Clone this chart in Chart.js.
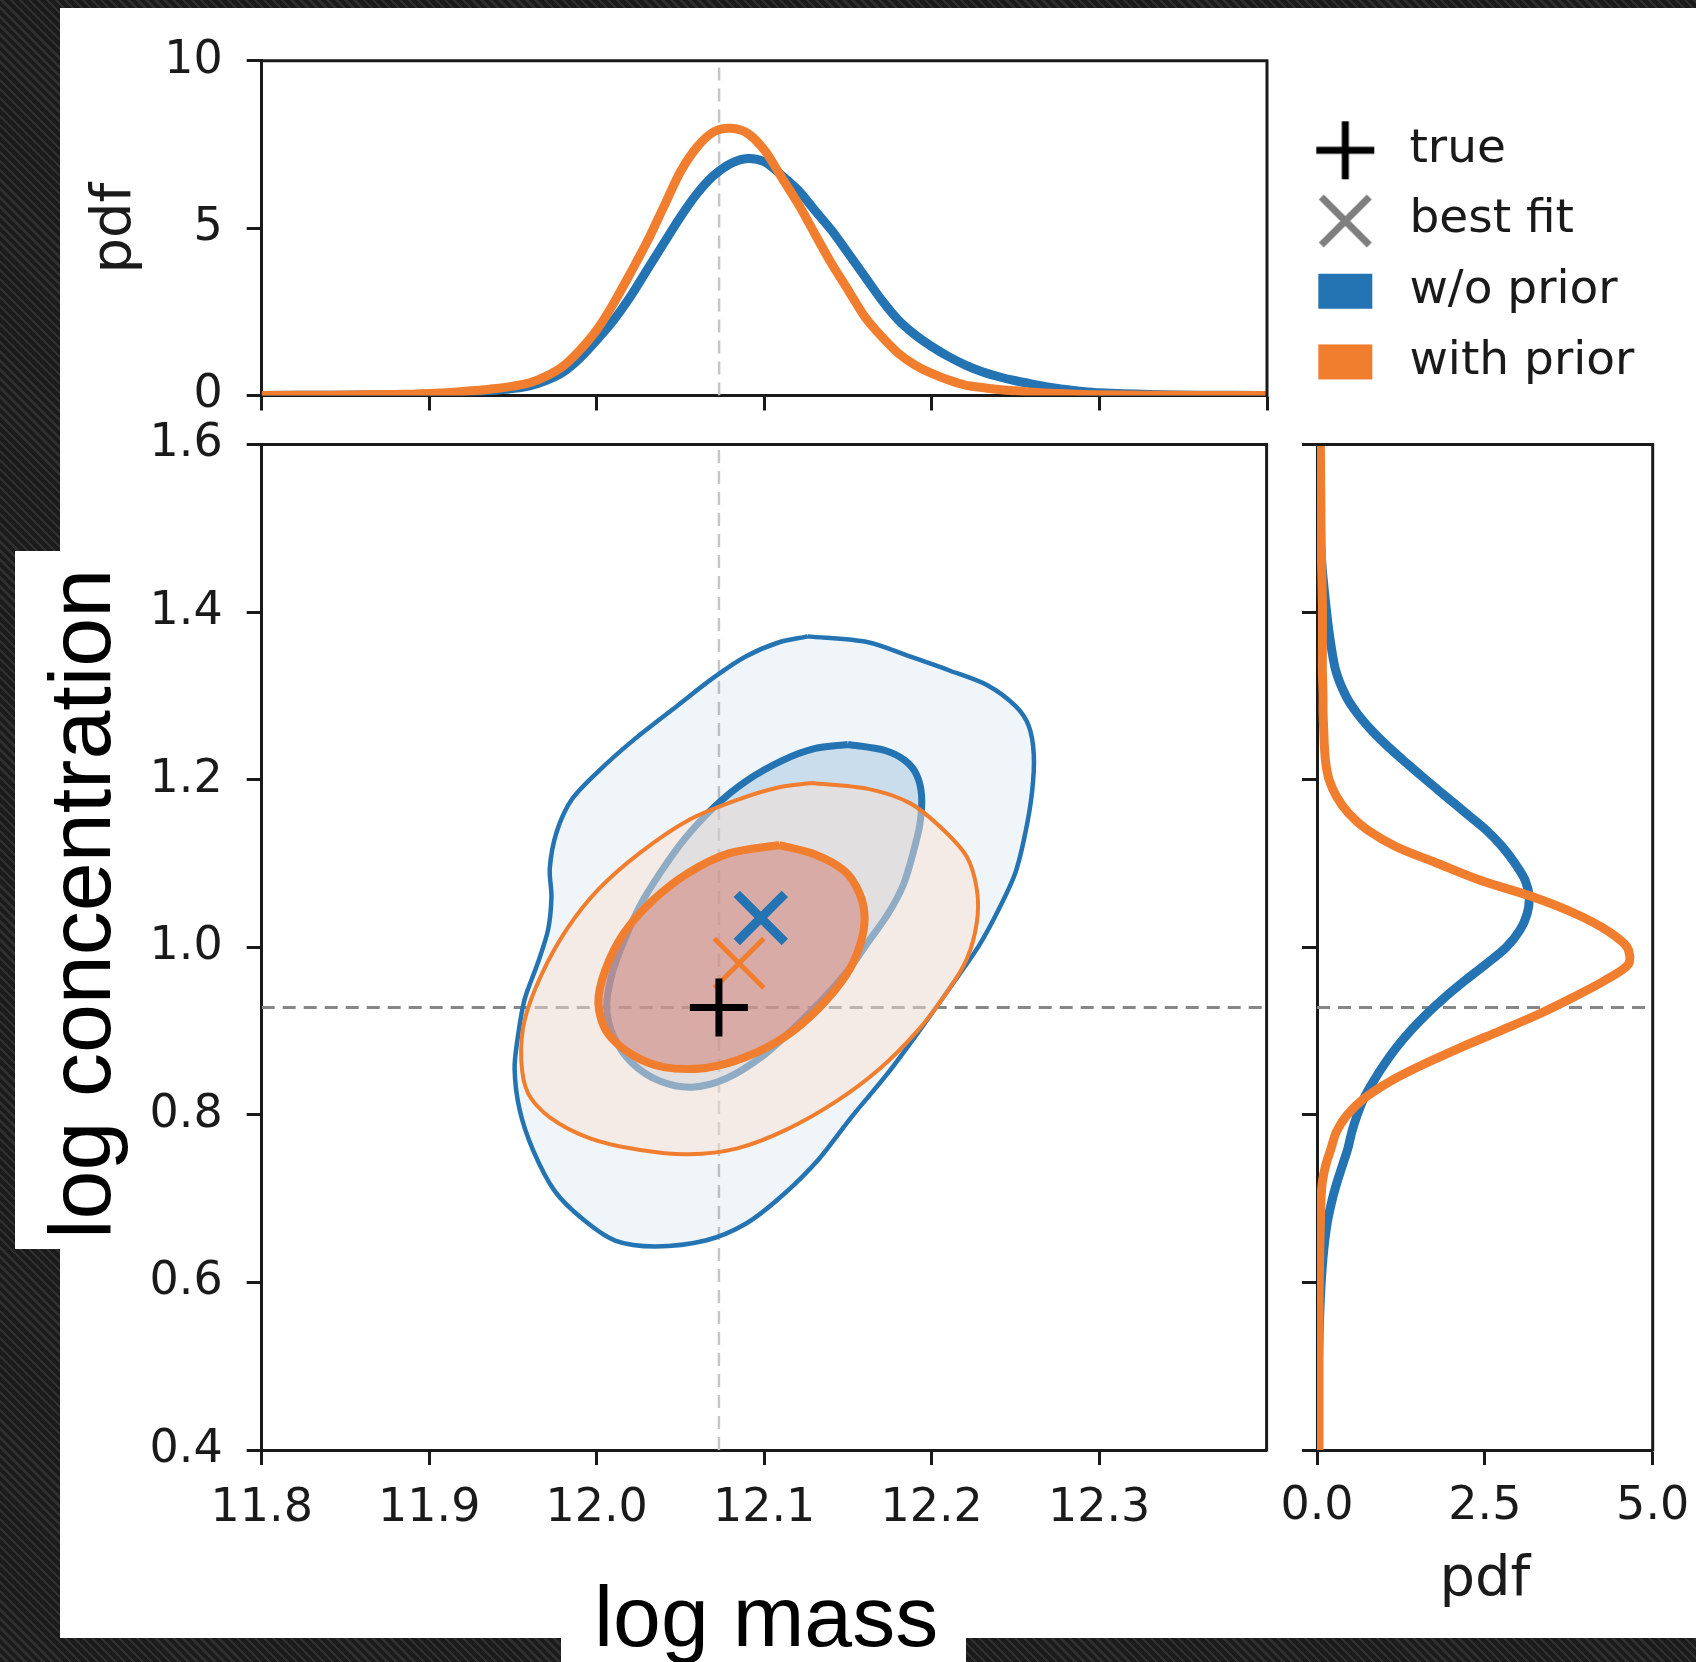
<!DOCTYPE html>
<html>
<head>
<meta charset="utf-8">
<title>log mass / log concentration posterior</title>
<script src="https://cdn.jsdelivr.net/npm/chart.js@4.4.1/dist/chart.umd.min.js"></script>
<style>
  html, body { margin: 0; padding: 0; }
  body {
    width: 1696px; height: 1662px; position: relative; overflow: hidden;
    background: repeating-linear-gradient(45deg, #1b1b1b 0px, #1b1b1b 4px, #2f2f2f 4px, #2f2f2f 6.4px);
  }
  #panel { position: absolute; left: 60px; top: 8px; width: 1636px; height: 1630px; background: #fff; }
  canvas { position: absolute; }
  #topChart { left: 60px; top: 0px; }
  #mainChart { left: 60px; top: 388px; }
  #sideChart { left: 1262px; top: 388px; }
  .patch { position: absolute; background: #fff; }
  .bigLabel {
    position: absolute; white-space: nowrap; color: #000;
    font-family: "Liberation Sans", Arial, sans-serif; line-height: 1;
  }
  #ylab { font-size: 88px; left: 35.5px; top: 1239px; transform-origin: 0 0; transform: rotate(-90deg); }
  #xlab { font-size: 86px; left: 594px; top: 1573px; }
</style>
</head>
<body>
<div id="panel"></div>
<div class="patch" style="left:15px; top:551px; width:46px; height:698px;"></div>
<div class="patch" style="left:561px; top:1574px; width:405px; height:88px;"></div>
<canvas id="topChart" width="1577" height="450"></canvas>
<canvas id="mainChart" width="1287" height="1162"></canvas>
<canvas id="sideChart" width="446" height="1232"></canvas>
<div class="bigLabel" id="ylab">log concentration</div>
<div class="bigLabel" id="xlab">log mass</div>
<script>
// values
var massGrid = [11.80, 11.84, 11.88, 11.89, 11.90, 11.91, 11.92, 11.93, 11.94, 11.95, 11.96, 11.97, 11.98, 11.99,
  12.00, 12.01, 12.02, 12.03, 12.04, 12.05, 12.06, 12.07, 12.08, 12.09, 12.10, 12.11, 12.12,
  12.13, 12.14, 12.15, 12.16, 12.17, 12.18, 12.19, 12.20, 12.21, 12.22, 12.23, 12.24,
  12.25, 12.26, 12.27, 12.28, 12.29, 12.30, 12.33, 12.36, 12.40];
var massPdfNoPrior = [0.00, 0.01, 0.02, 0.03, 0.04, 0.06, 0.09, 0.12, 0.16, 0.21, 0.29, 0.45, 0.70, 1.12,
  1.66, 2.25, 2.95, 3.75, 4.55, 5.34, 6.04, 6.58, 6.93, 7.08, 6.98, 6.59, 6.14,
  5.54, 4.94, 4.25, 3.55, 2.85, 2.25, 1.81, 1.46, 1.16, 0.91, 0.71, 0.56,
  0.44, 0.34, 0.25, 0.18, 0.12, 0.08, 0.03, 0.01, 0.00];
var massPdfWithPrior = [0.00, 0.01, 0.03, 0.04, 0.06, 0.08, 0.12, 0.16, 0.21, 0.28, 0.38, 0.58, 0.88, 1.36,
  1.96, 2.75, 3.65, 4.59, 5.64, 6.69, 7.43, 7.88, 7.98, 7.83, 7.33, 6.54, 5.74,
  4.84, 3.95, 3.15, 2.35, 1.76, 1.26, 0.91, 0.66, 0.46, 0.31, 0.24, 0.18,
  0.14, 0.10, 0.07, 0.05, 0.03, 0.02, 0.01, 0.00, 0.00];

var concGrid = [0.40, 0.50, 0.58, 0.63, 0.67, 0.70,
  0.72, 0.74, 0.76, 0.78, 0.80, 0.82, 0.84, 0.86, 0.88, 0.90, 0.92, 0.94, 0.96, 0.98, 1.00,
  1.02, 1.04, 1.06, 1.08, 1.10, 1.12, 1.14, 1.16, 1.18, 1.20, 1.22, 1.24, 1.26, 1.28, 1.30,
  1.33, 1.37, 1.41, 1.45, 1.50, 1.60];
var concPdfNoPrior = [0.00, 0.02, 0.05, 0.09, 0.15, 0.23,
  0.30, 0.38, 0.46, 0.52, 0.60, 0.70, 0.84, 1.00, 1.18, 1.39, 1.63, 1.90, 2.20, 2.52, 2.82,
  3.02, 3.13, 3.16, 3.10, 2.95, 2.76, 2.52, 2.22, 1.92, 1.62, 1.33, 1.05, 0.80, 0.59, 0.43,
  0.28, 0.19, 0.13, 0.08, 0.04, 0.01];
var concPdfWithPrior = [0.03, 0.03, 0.03, 0.04, 0.05, 0.06,
  0.08, 0.13, 0.21, 0.29, 0.45, 0.71, 1.09, 1.58, 2.13, 2.72, 3.30, 3.81, 4.28, 4.64, 4.62,
  4.32, 3.85, 3.22, 2.43, 1.80, 1.18, 0.75, 0.47, 0.29, 0.18, 0.13, 0.11, 0.10, 0.09, 0.09,
  0.08, 0.08, 0.08, 0.07, 0.06, 0.05];

var trueMass = 12.073;
var trueConc = 0.928;
var bestNoPrior = [12.098, 1.035];
var bestWithPrior = [12.085, 0.981];

// credible-region outlines, [log mass, log concentration]
var noPriorOuter = [[12.126, 1.371], [12.162, 1.364], [12.187, 1.347], [12.211, 1.330], [12.233, 1.313],
  [12.250, 1.288], [12.258, 1.264], [12.261, 1.230], [12.260, 1.186], [12.256, 1.137], [12.250, 1.089],
  [12.240, 1.045], [12.228, 1.001], [12.211, 0.952], [12.194, 0.904], [12.174, 0.850], [12.152, 0.797],
  [12.133, 0.748], [12.111, 0.704], [12.089, 0.670], [12.065, 0.650], [12.035, 0.643], [12.011, 0.650],
  [11.992, 0.675], [11.975, 0.709], [11.962, 0.758], [11.954, 0.806], [11.951, 0.855], [11.953, 0.894],
  [11.957, 0.938], [11.965, 0.982], [11.971, 1.021], [11.973, 1.060], [11.972, 1.094], [11.976, 1.137],
  [11.985, 1.176], [12.001, 1.210], [12.023, 1.249], [12.048, 1.288], [12.070, 1.322], [12.089, 1.347],
  [12.109, 1.364]];
var noPriorInner = [[12.150, 1.242], [12.172, 1.235], [12.184, 1.223], [12.191, 1.206], [12.194, 1.181],
  [12.193, 1.147], [12.189, 1.113], [12.183, 1.074], [12.174, 1.040], [12.162, 1.006], [12.150, 0.972],
  [12.135, 0.938], [12.118, 0.904], [12.099, 0.870], [12.077, 0.843], [12.057, 0.833], [12.038, 0.840],
  [12.021, 0.862], [12.010, 0.894], [12.006, 0.928], [12.009, 0.967], [12.016, 1.006], [12.026, 1.050],
  [12.038, 1.089], [12.052, 1.128], [12.070, 1.167], [12.089, 1.198], [12.111, 1.223], [12.130, 1.237]];
var withPriorOuter = [[12.128, 1.196], [12.162, 1.189], [12.187, 1.172], [12.206, 1.142], [12.221, 1.108],
  [12.227, 1.069], [12.227, 1.030], [12.221, 0.986], [12.208, 0.943], [12.191, 0.899], [12.169, 0.855],
  [12.143, 0.816], [12.113, 0.782], [12.084, 0.760], [12.055, 0.753], [12.026, 0.758], [11.996, 0.772],
  [11.972, 0.797], [11.959, 0.826], [11.955, 0.865], [11.957, 0.913], [11.967, 0.967], [11.982, 1.021],
  [12.001, 1.069], [12.026, 1.113], [12.055, 1.152], [12.084, 1.176], [12.109, 1.191]];
var withPriorInner = [[12.109, 1.122], [12.130, 1.111], [12.148, 1.091], [12.157, 1.064], [12.160, 1.035],
  [12.157, 1.001], [12.149, 0.967], [12.133, 0.928], [12.113, 0.894], [12.089, 0.869], [12.065, 0.856],
  [12.040, 0.857], [12.021, 0.872], [12.006, 0.899], [12.001, 0.933], [12.005, 0.972], [12.016, 1.016],
  [12.033, 1.055], [12.055, 1.089], [12.079, 1.112]];

var massTicks = [11.8, 11.9, 12.0, 12.1, 12.2, 12.3];
var massTicksTop = [11.8, 11.9, 12.0, 12.1, 12.2, 12.3, 12.4];
var concTicks = [0.4, 0.6, 0.8, 1.0, 1.2, 1.4, 1.6];
var massPdfTicks = [0, 5, 10];
var concPdfTicks = [0, 2.5, 5];

var BLUE = '#2474b3';
var ORANGE = '#f07e2e';
var INK = '#1a1a1a';

Chart.defaults.font.family = "'DejaVu Sans', sans-serif";

function xy(xs, ys) {
  return xs.map(function(x, i) { return {x: x, y: ys[i]}; });
}
function loop(pairs) {
  return pairs.concat([pairs[0]]).map(function(p) { return {x: p[0], y: p[1]}; });
}
function fixedTicks(values) {
  return function(scale) { scale.ticks = values.map(function(v) { return {value: v}; }); };
}

var tickFont = {family: "'DejaVu Sans', sans-serif", size: 46};
var titleFont = {family: "'DejaVu Sans', sans-serif", size: 56};
var gridOpts = {drawOnChartArea: false, drawTicks: true, tickLength: 15, tickWidth: 3, tickColor: INK};
var borderOpts = {display: true, color: INK, width: 3};

// top and right spines, matplotlib style
var framePlugin = {
  id: 'frame',
  afterDraw: function(chart) {
    var a = chart.chartArea, ctx = chart.ctx;
    ctx.save();
    ctx.strokeStyle = INK;
    ctx.lineWidth = 3;
    ctx.beginPath();
    ctx.moveTo(a.left - 1.5, a.top);
    ctx.lineTo(a.right, a.top);
    ctx.lineTo(a.right, a.bottom + 1.5);
    ctx.stroke();
    ctx.restore();
  }
};

function curve(data, color, order) {
  return {data: data, showLine: true, borderColor: color, borderWidth: 9, pointRadius: 0,
    tension: 0.3, fill: false, order: order};
}
function dashed(data, color, width, order) {
  return {data: data, showLine: true, borderColor: color, borderWidth: width, borderDash: [13, 8],
    pointRadius: 0, fill: false, order: order};
}
function region(pairs, line, fillColor, width, order) {
  return {data: loop(pairs), showLine: true, borderColor: line, backgroundColor: fillColor,
    borderWidth: width, fill: 'shape', pointRadius: 0, tension: 0.3, order: order};
}
function marker(p, style, color, radius, width, order) {
  return {data: [{x: p[0], y: p[1]}], showLine: false, pointStyle: style, pointRadius: radius,
    pointBorderColor: color, pointBackgroundColor: color, pointBorderWidth: width, order: order};
}

// legend glyphs
function glyph(draw) {
  var c = document.createElement('canvas');
  c.width = 80; c.height = 64;
  var g = c.getContext('2d');
  g.translate(47, 33);
  draw(g);
  return c;
}
var plusGlyph = glyph(function(g) {
  g.strokeStyle = '#000'; g.lineWidth = 7;
  g.beginPath(); g.moveTo(-29, 0); g.lineTo(29, 0); g.moveTo(0, -29); g.lineTo(0, 29); g.stroke();
});
var crossGlyph = glyph(function(g) {
  g.strokeStyle = '#7f7f7f'; g.lineWidth = 7;
  g.beginPath(); g.moveTo(-24, -24); g.lineTo(24, 24); g.moveTo(24, -24); g.lineTo(-24, 24); g.stroke();
});
var blueGlyph = glyph(function(g) { g.fillStyle = BLUE; g.fillRect(-27, -18, 54, 35); });
var orangeGlyph = glyph(function(g) { g.fillStyle = ORANGE; g.fillRect(-27, -18, 54, 35); });

var legendItems = [
  {text: 'true', pointStyle: plusGlyph},
  {text: 'best fit', pointStyle: crossGlyph},
  {text: 'w/o prior', pointStyle: blueGlyph},
  {text: 'with prior', pointStyle: orangeGlyph}
].map(function(it, i) {
  return {text: it.text, pointStyle: it.pointStyle, fontColor: INK, lineWidth: 0, hidden: false, index: i};
});

// marginal of log mass (top)
new Chart(document.getElementById('topChart'), {
  type: 'scatter',
  data: {datasets: [
    curve(xy(massGrid, massPdfWithPrior), ORANGE, 0),
    curve(xy(massGrid, massPdfNoPrior), BLUE, 1),
    dashed([{x: trueMass, y: 0}, {x: trueMass, y: 10}], '#c6c6c6', 2.5, 2)
  ]},
  options: {
    responsive: false, animation: false,
    layout: {padding: {top: 60.7, left: 0, right: 0, bottom: 0}},
    plugins: {
      tooltip: {enabled: false},
      legend: {
        display: true, position: 'right', align: 'center', maxWidth: 370,
        labels: {
          usePointStyle: true, pointStyleWidth: 95.2, boxHeight: 47, padding: 23.7,
          color: INK, font: {family: "'DejaVu Sans', sans-serif", size: 47},
          generateLabels: function() { return legendItems; }
        }
      }
    },
    scales: {
      x: {
        type: 'linear', min: 11.8, max: 12.4,
        afterBuildTicks: fixedTicks(massTicksTop),
        afterFit: function(s) { s.height = 54.5; },
        ticks: {callback: function() { return ''; }, autoSkip: false, maxRotation: 0},
        grid: gridOpts, border: borderOpts
      },
      y: {
        type: 'linear', min: 0, max: 10,
        afterBuildTicks: fixedTicks(massPdfTicks),
        afterFit: function(s) { s.width = 201.7; },
        ticks: {font: tickFont, color: INK, padding: 24, autoSkip: false},
        title: {display: true, text: 'pdf', color: INK, font: titleFont, padding: {top: 22, bottom: 0}},
        grid: gridOpts, border: borderOpts
      }
    }
  },
  plugins: [framePlugin]
});

// joint posterior (main)
new Chart(document.getElementById('mainChart'), {
  type: 'scatter',
  data: {datasets: [
    marker([trueMass, trueConc], 'cross', '#000', 29, 7, 0),
    marker(bestWithPrior, 'crossRot', ORANGE, 35, 5, 1),
    marker(bestNoPrior, 'crossRot', BLUE, 34, 9, 2),
    region(withPriorInner, ORANGE, 'rgba(206,106,97,0.45)', 8, 3),
    region(withPriorOuter, ORANGE, 'rgba(250,225,212,0.51)', 4, 4),
    region(noPriorInner, BLUE, 'rgba(36,116,179,0.19)', 7, 5),
    region(noPriorOuter, BLUE, 'rgba(36,116,179,0.075)', 4.5, 6),
    dashed([{x: 11.8, y: trueConc}, {x: 12.4, y: trueConc}], '#878787', 3, 7),
    dashed([{x: trueMass, y: 0.4}, {x: trueMass, y: 1.6}], '#c6c6c6', 2.5, 8)
  ]},
  options: {
    responsive: false, animation: false,
    layout: {padding: {top: 56.5, left: 0, right: 80.4, bottom: 0}},
    plugins: {legend: {display: false}, tooltip: {enabled: false}},
    scales: {
      x: {
        type: 'linear', min: 11.8, max: 12.4,
        afterBuildTicks: fixedTicks(massTicks),
        afterFit: function(s) { s.height = 100; },
        ticks: {font: tickFont, color: INK, padding: 16, autoSkip: false, maxRotation: 0,
          callback: function(v) { return v.toFixed(1); }},
        grid: gridOpts, border: borderOpts
      },
      y: {
        type: 'linear', min: 0.4, max: 1.6,
        afterBuildTicks: fixedTicks(concTicks),
        afterFit: function(s) { s.width = 201.7; },
        ticks: {font: tickFont, color: INK, padding: 24, autoSkip: false,
          callback: function(v) { return v.toFixed(1); }},
        grid: gridOpts, border: borderOpts
      }
    }
  },
  plugins: [framePlugin]
});

// marginal of log concentration (right)
new Chart(document.getElementById('sideChart'), {
  type: 'scatter',
  data: {datasets: [
    curve(xy(concPdfWithPrior, concGrid), ORANGE, 0),
    curve(xy(concPdfNoPrior, concGrid), BLUE, 1),
    dashed([{x: 0, y: trueConc}, {x: 5, y: trueConc}], '#878787', 3, 2)
  ]},
  options: {
    responsive: false, animation: false,
    layout: {padding: {top: 56.5, left: 0, right: 55.3, bottom: 0}},
    plugins: {legend: {display: false}, tooltip: {enabled: false}},
    scales: {
      x: {
        type: 'linear', min: 0, max: 5,
        afterBuildTicks: fixedTicks(concPdfTicks),
        afterFit: function(s) { s.height = 170; },
        ticks: {font: tickFont, color: INK, padding: 14, autoSkip: false, maxRotation: 0,
          callback: function(v) { return v.toFixed(1); }},
        title: {display: true, text: 'pdf', color: INK, font: titleFont, padding: {top: 0, bottom: 6}},
        grid: gridOpts, border: borderOpts
      },
      y: {
        type: 'linear', min: 0.4, max: 1.6,
        afterBuildTicks: fixedTicks(concTicks),
        afterFit: function(s) { s.width = 55; },
        ticks: {callback: function() { return ''; }, autoSkip: false},
        grid: gridOpts, border: borderOpts
      }
    }
  },
  plugins: [framePlugin]
});
</script>
</body>
</html>
